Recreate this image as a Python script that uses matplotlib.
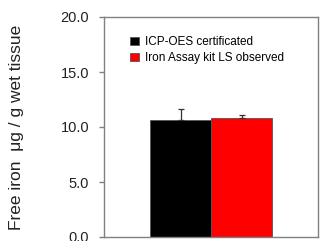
import matplotlib
matplotlib.use("Agg")
import matplotlib.pyplot as plt
import numpy as np

plt.rcParams['font.family'] = ['Liberation Sans', 'DejaVu Sans']

series = ["ICP-OES certificated", "Iron Assay kit LS observed"]
values = [10.65, 10.8]
errors = [1.0, 0.25]
colors = ["#000000", "#ff0000"]
yticks = [0.0, 5.0, 10.0, 15.0, 20.0]

fig = plt.figure(figsize=(3.26, 2.41), dpi=100)
ax = fig.add_axes([104/326, 4/241, (318-104)/326, (237-17)/241])

x = [0.0, 1.0]
for xi, v, e, c, lab in zip(x, values, errors, colors, series):
    ax.bar(xi, v, width=1.0, color=c, edgecolor="#555555", linewidth=0.6,
           label=lab, zorder=2)
    ax.errorbar(xi, v, yerr=[[0], [e]], fmt="none", ecolor="#333333",
                elinewidth=0.9, capsize=2.5, capthick=0.9, zorder=3)

ax.set_xlim(-1.26, 2.25)
ax.set_ylim(0, 20)
ax.set_yticks(yticks)
ax.set_yticklabels([f"{t:.1f}" for t in yticks], fontsize=10.5, color="#222222")
ax.set_xticks([])
for s in ax.spines.values():
    s.set_color("#808080")
    s.set_linewidth(1.0)
ax.tick_params(axis="y", direction="out", length=3.6, width=1.0, color="#808080", pad=7)

ax.set_ylabel("Free iron  μg / g wet tissue", fontsize=12.5, color="#222222")
ax.yaxis.set_label_coords(-(104-24)/214, 0.5)

leg = ax.legend(loc="upper left", bbox_to_anchor=(26/214, 1-19/220), fontsize=8.5,
                frameon=False, handlelength=0.75, handleheight=0.75,
                handletextpad=0.5, labelspacing=0.35, borderaxespad=0,
                borderpad=0)

fig.savefig("out.png", dpi=100)
